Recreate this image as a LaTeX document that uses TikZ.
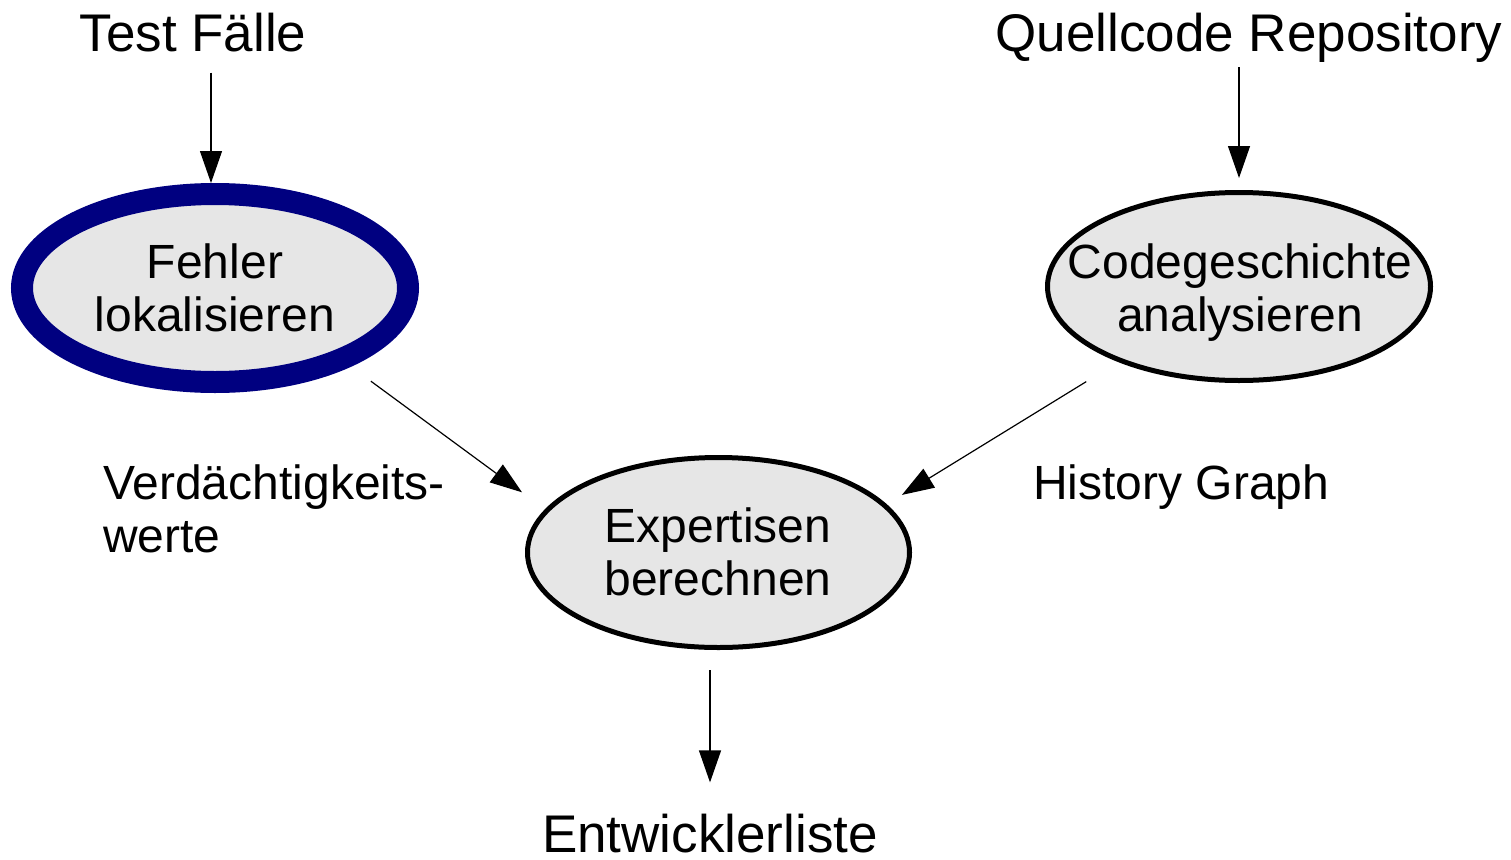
\documentclass[tikz,border=0pt]{standalone}
\usepackage{fontspec}
\setmainfont{Liberation Sans}
\usetikzlibrary{arrows.meta,shapes.geometric,calc}

\definecolor{procfill}{HTML}{E6E6E6}
\definecolor{navyline}{HTML}{000080}

\tikzset{
  proc/.style={ellipse, draw=black, line width=5pt, fill=procfill, inner sep=0pt},
  head/.style={inner sep=0pt, anchor=base, font=\fontsize{53}{60}\selectfont},
  lbl/.style={inner sep=0pt, anchor=base west, align=left, font=\fontsize{48}{53}\selectfont},
  ptext/.style={inner sep=0pt, align=center, font=\fontsize{48}{53}\selectfont},
  conn/.style={line width=1.2pt, -{Triangle[length=32pt,width=22pt]}}
}

\begin{document}
\begin{tikzpicture}[x=1pt,y=-1pt]
  \useasboundingbox (0,0) rectangle (1511,859);

  % processes
  \node[proc, draw=navyline, line width=22pt, minimum width=386pt, minimum height=188pt] (fl) at (215,288) {};
  \node[proc, minimum width=383pt, minimum height=188pt] (ch) at (1239,286.5) {};
  \node[proc, minimum width=382pt, minimum height=190pt] (ex) at (718.5,552.5) {};

  \node[ptext] (flt) at (215,288) {Fehler\\lokalisieren};
  \node[ptext] (cht) at (1240,293) {Codegeschichte\\analysieren};
  \node[ptext] (ext) at (718,551.5) {Expertisen\\berechnen};

  % inputs and output
  \node[head] (tf) at (193,52) {Test Fälle};
  \node[head] (qr) at (1249,52) {Quellcode Repository};
  \node[head] (ent) at (710,852) {Entwicklerliste};

  % edge labels (base anchor sits on the last line)
  \node[lbl] (vw) at (103,552) {Verdächtigkeits-\\werte};
  \node[lbl] (hg) at (1033,499) {History Graph};

  % connectors
  \draw[conn, shorten <=20pt] ([xshift=-4pt]fl.north |- tf.south) -- ([xshift=-4pt]fl.north);
  \draw[conn, shorten <=4pt, shorten >=12pt] (ch.north |- qr.south) -- (ch.north);
  \draw[conn, shorten <=25pt, shorten >=28.6pt] (fl.-30.3) -- (ex.166.7);
  \draw[conn, shorten <=37.5pt, shorten >=17.9pt] (ch.212.7) -- (ex.16.4);
  \draw[conn, shorten <=20pt, shorten >=31pt] (ent.north |- ex.south) -- (ent.north);
\end{tikzpicture}
\end{document}
